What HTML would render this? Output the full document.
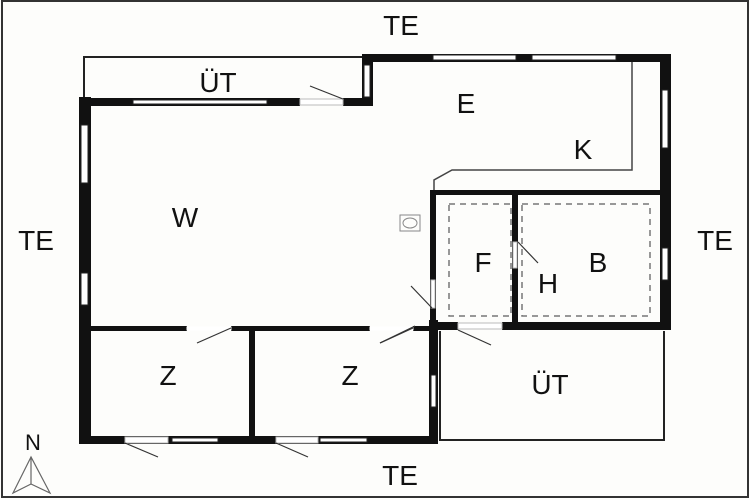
<!DOCTYPE html>
<html><head><style>html,body{margin:0;padding:0;background:#fff}svg{display:block}</style></head><body>
<svg width="750" height="500" viewBox="0 0 750 500" xmlns="http://www.w3.org/2000/svg" font-family="Liberation Sans, sans-serif">
<rect x="0" y="0" width="750" height="500" fill="#fdfdfb"/>
<rect x="2" y="1" width="746" height="496" fill="none" stroke="#333" stroke-width="2"/>
<g fill="none" stroke="#222" stroke-width="2">
<polyline points="84,98 84,57 362,57"/>
<polyline points="440,331 440,440 664,440 664,331"/>
</g>
<g fill="none" stroke="#444" stroke-width="1.5">
<polyline points="632,61 632,170 452,170 434,180 434,191"/>
</g>
<g fill="#111">
<!-- left wall -->
<rect x="79" y="97" width="12" height="347"/>
<!-- top wall of W -->
<rect x="79" y="98" width="221" height="8"/>
<rect x="343" y="98" width="30" height="8"/>
<rect x="362" y="54" width="11" height="52"/>
<!-- top right wall -->
<rect x="362" y="54" width="309" height="8"/>
<!-- right wall -->
<rect x="660" y="54" width="11" height="276"/>
<!-- F/B top wall -->
<rect x="430" y="190" width="233" height="5"/>
<rect x="430" y="190" width="6" height="140"/>
<rect x="512" y="190" width="6" height="135"/>
<rect x="502" y="322" width="169" height="8"/>
<rect x="430" y="322" width="28" height="8"/>
<!-- Z walls -->
<rect x="91" y="326" width="96" height="5"/>
<rect x="231" y="326" width="139" height="5"/>
<rect x="413" y="326" width="23" height="5"/>
<rect x="249" y="328" width="6" height="114"/>
<rect x="429" y="320" width="9" height="124"/>
<rect x="79" y="436" width="359" height="8"/>
</g>
<!-- windows -->
<g fill="#fff" stroke="#222" stroke-width="1">
<rect x="133" y="100" width="134" height="4"/>
<rect x="300" y="99" width="43" height="6" stroke="#bbb"/>
<rect x="364" y="65" width="6" height="32"/>
<rect x="433" y="55" width="83" height="5"/>
<rect x="532" y="55" width="84" height="5"/>
<rect x="662" y="90" width="6" height="58"/>
<rect x="662" y="248" width="6" height="32"/>
<rect x="81" y="125" width="7" height="58"/>
<rect x="81" y="273" width="7" height="32"/>
<rect x="431" y="280" width="4" height="28" stroke="#bbb"/>
<rect x="513" y="242" width="4" height="26" stroke="#bbb"/>
<rect x="458" y="323" width="44" height="6" stroke="#bbb"/>
<rect x="187" y="327" width="44" height="3" stroke="#fff"/>
<rect x="370" y="327" width="43" height="3" stroke="#fff"/>
<rect x="431" y="375" width="5" height="32"/>
<rect x="125" y="437" width="43" height="6" stroke="#bbb"/>
<rect x="172" y="438" width="46" height="4"/>
<rect x="276" y="437" width="42" height="6" stroke="#bbb"/>
<rect x="320" y="438" width="47" height="4"/>
</g>
<!-- door swings -->
<g stroke="#333" stroke-width="1.2">
<line x1="310" y1="86" x2="343" y2="99"/>
<line x1="411" y1="286" x2="432" y2="308"/>
<line x1="518" y1="242" x2="538" y2="263"/>
<line x1="458" y1="330" x2="491" y2="345"/>
<line x1="231" y1="328" x2="197" y2="343"/>
<line x1="413" y1="328" x2="380" y2="343"/>
<line x1="415" y1="326" x2="380" y2="343"/>
<line x1="125" y1="443" x2="158" y2="457"/>
<line x1="276" y1="443" x2="308" y2="457"/>
</g>
<!-- dashed -->
<g fill="none" stroke="#777" stroke-width="1.5" stroke-dasharray="6,5">
<rect x="449" y="204" width="62" height="112"/>
<rect x="522" y="204" width="128" height="112"/>
</g>
<!-- stove -->
<rect x="400" y="215" width="20" height="16" fill="none" stroke="#888" stroke-width="1"/>
<ellipse cx="410" cy="223" rx="7" ry="5" fill="none" stroke="#888" stroke-width="1"/>
<!-- labels -->
<g fill="#111" font-size="28" text-anchor="middle">
<text x="401" y="35">TE</text>
<text x="36" y="250">TE</text>
<text x="715" y="250">TE</text>
<text x="400" y="485">TE</text>
<text x="218" y="92">ÜT</text>
<text x="466" y="113">E</text>
<text x="583" y="159">K</text>
<text x="185" y="227">W</text>
<text x="483" y="272">F</text>
<text x="548" y="293">H</text>
<text x="598" y="272">B</text>
<text x="168" y="385">Z</text>
<text x="350" y="385">Z</text>
<text x="550" y="394">ÜT</text>
<text x="33" y="450" font-size="22">N</text>
</g>
<g fill="none" stroke="#666" stroke-width="1.2">
<polygon points="31,457 13,493 31,484 50,493"/>
<polyline points="31,457 31,484"/>
</g>
</svg>
</body></html>
